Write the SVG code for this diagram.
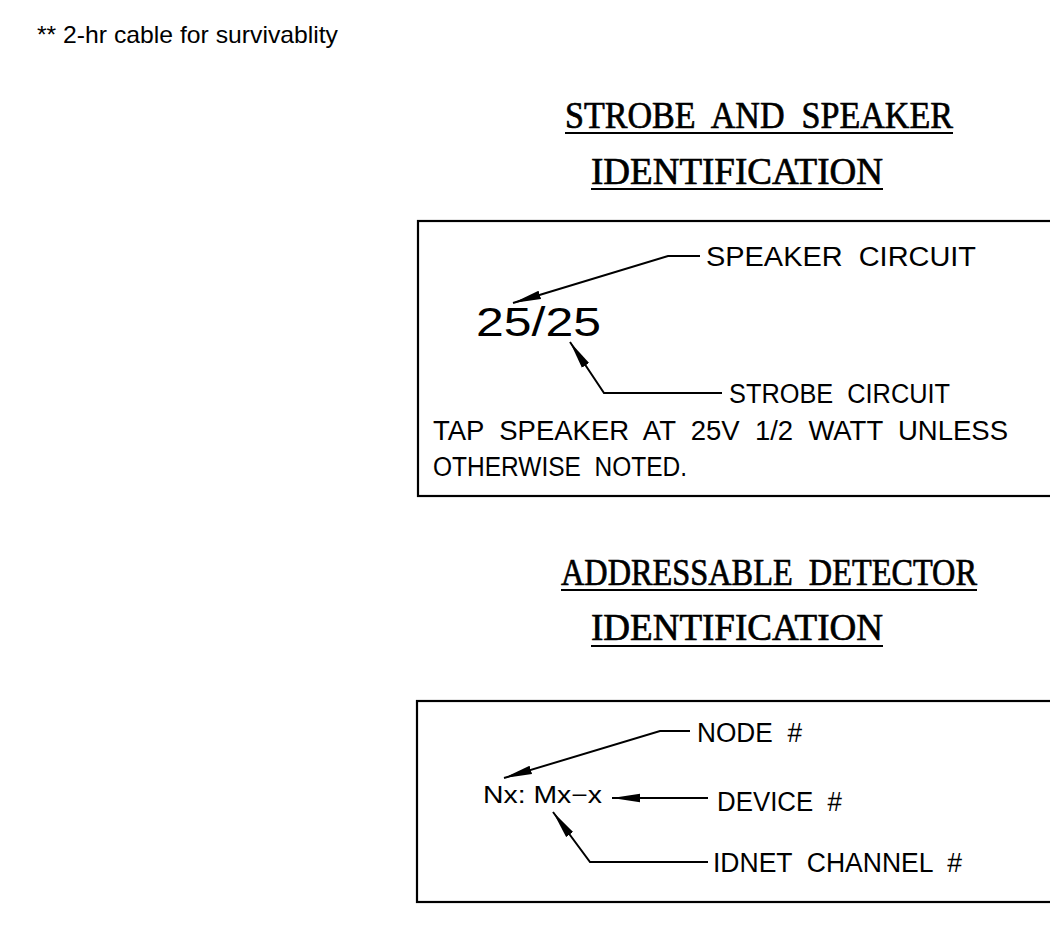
<svg xmlns="http://www.w3.org/2000/svg" width="1050" height="952" viewBox="0 0 1050 952">
<defs>
<style>
text{white-space:pre}
.cad{font-family:"Liberation Sans",Arial,sans-serif;fill:#000}
.hd{font-family:"Liberation Serif","Times New Roman",serif;fill:#000;stroke:#000;stroke-width:0.7}
.box{fill:none;stroke:#000;stroke-width:2.2}
.ln{fill:none;stroke:#000;stroke-width:2}
.ul{stroke:#000;stroke-width:2.2}
</style>
<marker id="ah" markerUnits="userSpaceOnUse" markerWidth="28" markerHeight="10" viewBox="0 0 26 8" refX="26" refY="4" orient="auto">
<path d="M0,0 L26,4 L0,8 z" fill="#000"/>
</marker>
</defs>
<rect width="1050" height="952" fill="#fff"/>
<g id="note">
<text x="37" y="43" font-family="Liberation Sans,Arial,sans-serif" font-size="24" textLength="301" lengthAdjust="spacingAndGlyphs">** 2-hr cable for survivablity</text>
</g>
<g id="heading1">
<text class="hd" xml:space="preserve" x="565" y="128" font-size="38" textLength="388" lengthAdjust="spacingAndGlyphs">STROBE  AND  SPEAKER</text>
<line class="ul" x1="565" y1="133" x2="953" y2="133"/>
<text class="hd" x="591" y="184" font-size="38" textLength="292" lengthAdjust="spacingAndGlyphs">IDENTIFICATION</text>
<line class="ul" x1="591" y1="189" x2="883" y2="189"/>
</g>
<g id="box1">
<rect class="box" x="418" y="221" width="700" height="275"/>
<text class="cad" x="476" y="336" font-size="40" textLength="125" lengthAdjust="spacingAndGlyphs">25/25</text>
<text class="cad" xml:space="preserve" x="706" y="266" font-size="27" textLength="270" lengthAdjust="spacingAndGlyphs">SPEAKER  CIRCUIT</text>
<text class="cad" xml:space="preserve" x="729" y="403" font-size="27" textLength="221" lengthAdjust="spacingAndGlyphs">STROBE  CIRCUIT</text>
<text class="cad" xml:space="preserve" x="433" y="440" font-size="27" textLength="575" lengthAdjust="spacingAndGlyphs">TAP  SPEAKER  AT  25V  1/2  WATT  UNLESS</text>
<text class="cad" xml:space="preserve" x="433" y="476" font-size="27" textLength="254" lengthAdjust="spacingAndGlyphs">OTHERWISE  NOTED.</text>
</g>
<g id="heading2">
<text class="hd" xml:space="preserve" x="561" y="585" font-size="38" textLength="416" lengthAdjust="spacingAndGlyphs">ADDRESSABLE  DETECTOR</text>
<line class="ul" x1="561" y1="590" x2="977" y2="590"/>
<text class="hd" x="591" y="640" font-size="38" textLength="292" lengthAdjust="spacingAndGlyphs">IDENTIFICATION</text>
<line class="ul" x1="591" y1="646" x2="883" y2="646"/>
</g>
<g id="box2">
<rect class="box" x="417" y="701" width="700" height="201"/>
<text class="cad" x="483" y="803" font-size="23" textLength="119" lengthAdjust="spacingAndGlyphs">Nx: Mx−x</text>
<text class="cad" xml:space="preserve" x="697" y="742" font-size="27" textLength="105" lengthAdjust="spacingAndGlyphs">NODE  #</text>
<text class="cad" xml:space="preserve" x="717" y="811" font-size="27" textLength="125" lengthAdjust="spacingAndGlyphs">DEVICE  #</text>
<text class="cad" xml:space="preserve" x="713" y="872" font-size="27" textLength="249" lengthAdjust="spacingAndGlyphs">IDNET  CHANNEL  #</text>
</g>
<g id="connectors">
<polyline class="ln" points="700,256 668,256 513,303" marker-end="url(#ah)"/>
<polyline class="ln" points="722,393 604,393 570,342" marker-end="url(#ah)"/>
<polyline class="ln" points="690,731 660,731 504,778" marker-end="url(#ah)"/>
<polyline class="ln" points="708,798 612,798" marker-end="url(#ah)"/>
<polyline class="ln" points="708,862 590,862 553,812" marker-end="url(#ah)"/>
</g>
</svg>
